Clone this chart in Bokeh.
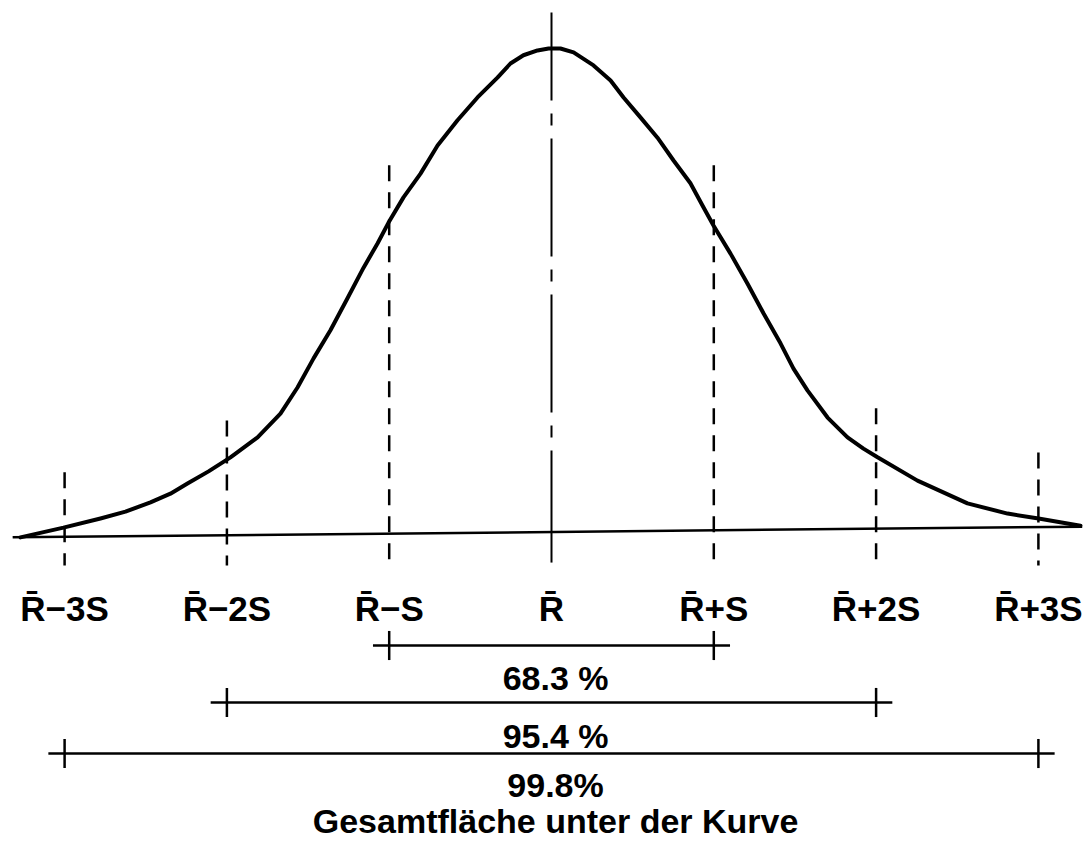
from bokeh.plotting import figure
from bokeh.models import Range1d
from bokeh.core.properties import value
from bokeh.embed import file_html
from bokeh.resources import INLINE

# ---- data (x in units of S around R-bar, y relative to peak height) ----
curve_x = [-3.272, -3.007, -2.779, -2.625, -2.471, -2.348, -2.243, -2.113, -1.978,
           -1.811, -1.670, -1.565, -1.466, -1.362, -1.257, -1.158, -1.072, -1.004,
           -0.912, -0.807, -0.702, -0.579, -0.456, -0.333, -0.253, -0.173, -0.086,
           -0.018, 0.055, 0.136, 0.259, 0.364, 0.444, 0.548, 0.653, 0.752, 0.856,
           0.937, 0.998, 1.103, 1.208, 1.306, 1.411, 1.491, 1.577, 1.701, 1.824,
           1.922, 2.009, 2.255, 2.563, 2.810, 3.001, 3.259]
curve_y = [-0.010, 0.010, 0.029, 0.043, 0.062, 0.080, 0.101, 0.126, 0.155,
           0.196, 0.245, 0.299, 0.359, 0.417, 0.483, 0.546, 0.596, 0.639,
           0.691, 0.740, 0.798, 0.850, 0.897, 0.938, 0.967, 0.984, 0.994,
           0.998, 0.998, 0.990, 0.963, 0.932, 0.897, 0.856, 0.814, 0.767, 0.720,
           0.670, 0.633, 0.575, 0.513, 0.452, 0.390, 0.338, 0.293, 0.237, 0.196,
           0.173, 0.155, 0.107, 0.060, 0.039, 0.029, 0.014]

baseline_x = [-3.32, 3.27]
baseline_y = [-0.010, 0.012]

guide_x = [-3, -2, -1, 1, 2, 3]
guide_top = [0.124, 0.231, 0.757, 0.757, 0.256, 0.165]
guide_bottom = -0.068

center_top = 1.072
center_bottom = -0.062

tick_x = [-3, -2, -1, 0, 1, 2, 3]
tick_labels = ["R\u0304\u22123S", "R\u0304\u22122S", "R\u0304\u2212S", "R\u0304",
               "R\u0304+S", "R\u0304+2S", "R\u0304+3S"]

bracket_lo = [-1, -2, -3]
bracket_hi = [1, 2, 3]
bracket_labels = ["68.3 %", "95.4 %", "99.8%"]
caption = "Gesamtfläche unter der Kurve"

# ---- layout ----
W, H = 1088, 841
px_per_x = 162.3
px_per_y = 485.0
x0 = -551 / px_per_x
x1 = x0 + W / px_per_x
y1 = 532 / px_per_y
y0 = y1 - H / px_per_y

p = figure(width=W, height=H, x_range=Range1d(x0, x1), y_range=Range1d(y0, y1),
           output_backend="svg", toolbar_location=None, min_border=0,
           x_axis_type=None, y_axis_type=None)
p.grid.visible = False
p.outline_line_color = None
p.background_fill_color = "white"
p.border_fill_color = "white"

FONT = value("Liberation Sans")

# baseline
p.line(baseline_x, baseline_y, line_color="black", line_width=2.5)

# dashed guide lines at +-S, +-2S, +-3S
p.segment(x0=guide_x, y0=guide_top, x1=guide_x, y1=[guide_bottom] * len(guide_x),
          line_color="black", line_width=2.5, line_dash="16 11")

# center dash-dot line
p.segment(x0=[0], y0=[center_top], x1=[0], y1=[center_bottom], line_color="black",
          line_width=2, line_dash="118 13 12 13", line_dash_offset=30)

# the curve
p.line(curve_x, curve_y, line_color="black", line_width=4, line_join="round",
       line_cap="round")

# tick labels
p.text(x=tick_x, y=[-0.157] * len(tick_x), text=tick_labels, text_font=FONT,
       text_font_size="35px", text_font_style="bold", text_align="center",
       text_baseline="alphabetic", text_color="black")

# brackets
bracket_line_y = [-0.233, -0.3505, -0.4557]
bracket_text_y = [-0.299, -0.4186, -0.5216]
tick_half = 0.03
over = 0.1
for lo, hi, ly, ty, lab in zip(bracket_lo, bracket_hi, bracket_line_y, bracket_text_y,
                               bracket_labels):
    p.segment(x0=[lo - over], y0=[ly], x1=[hi + over], y1=[ly], line_color="black",
              line_width=2.5)
    p.segment(x0=[lo, hi], y0=[ly + tick_half] * 2, x1=[lo, hi], y1=[ly - tick_half] * 2,
              line_color="black", line_width=2.5)
    p.text(x=[0.025], y=[ty], text=[lab], text_font=FONT, text_font_size="34px",
           text_font_style="bold", text_align="center", text_baseline="alphabetic",
           text_color="black")

p.text(x=[0.025], y=[-0.594], text=[caption], text_font=FONT, text_font_size="34px",
       text_font_style="bold", text_align="center", text_baseline="alphabetic",
       text_color="black")

open("out.html", "w").write(file_html(p, INLINE))
